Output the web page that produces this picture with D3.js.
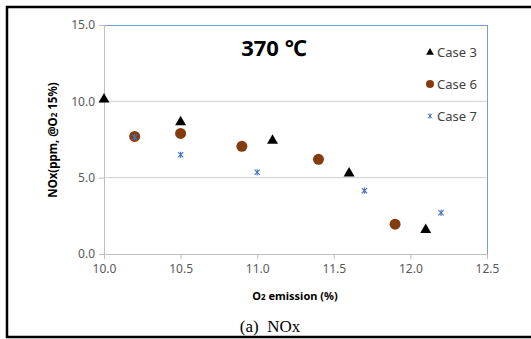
<!DOCTYPE html>
<html>
<head>
<meta charset="utf-8">
<script src="https://cdn.jsdelivr.net/npm/d3@7"></script>
<style>
  body { margin: 0; background: #fff; }
  svg { display: block; }
</style>
</head>
<body>
<div id="chart"></div>
<script>
// data
const xTicks = [10.0, 10.5, 11.0, 11.5, 12.0, 12.5];
const yTicks = [0, 5, 10, 15];

const case3O2 = [10.0, 10.5, 11.1, 11.6, 12.1];
const case3NOx = [10.2, 8.7, 7.5, 5.35, 1.65];

const case6O2 = [10.2, 10.5, 10.9, 11.4, 11.9];
const case6NOx = [7.7, 7.9, 7.05, 6.2, 1.95];

const case7O2 = [10.2, 10.5, 11.0, 11.7, 12.2];
const case7NOx = [7.65, 6.5, 5.35, 4.15, 2.7];

const seriesNames = ["Case 3", "Case 6", "Case 7"];

const W = 531, H = 339;
const margin = {top: 25, right: 44, bottom: 85, left: 104};
const width = 487 - margin.left, height = 254 - margin.top;

const svg = d3.select("#chart").append("svg")
  .attr("width", W).attr("height", H);

// outer frame
svg.append("rect")
  .attr("x", 7).attr("y", 7).attr("width", 540).attr("height", 330)
  .attr("fill", "none").attr("stroke", "#000").attr("stroke-width", 2.5);

const g = svg.append("g").attr("transform", `translate(${margin.left},${margin.top})`);

const x = d3.scaleLinear().domain([10, 12.5]).range([0, width]);
const y = d3.scaleLinear().domain([0, 15]).range([height, 0]);

// gridlines
g.append("g").selectAll("line").data([5, 10]).join("line")
  .attr("x1", 0).attr("x2", width)
  .attr("y1", d => y(d)).attr("y2", d => y(d))
  .attr("stroke", "#d0d0d0").attr("stroke-width", 1);

// plot border top/right
g.append("line").attr("x1", 0).attr("x2", width).attr("y1", 0.5).attr("y2", 0.5)
  .attr("stroke", "#6fa0d8").attr("stroke-width", 1);
g.append("line").attr("x1", width + 0.5).attr("x2", width + 0.5).attr("y1", 0).attr("y2", height)
  .attr("stroke", "#6fa0d8").attr("stroke-width", 1);

// axes
const xAxis = g.append("g").attr("transform", `translate(0,${height})`)
  .call(d3.axisBottom(x).tickValues(xTicks).tickFormat(d3.format(".1f")).tickSize(5).tickPadding(5));
const yAxis = g.append("g")
  .call(d3.axisLeft(y).tickValues(yTicks).tickFormat(d3.format(".1f")).tickSize(5).tickPadding(4));

[xAxis, yAxis].forEach(a => {
  a.select(".domain").attr("stroke", "#bfbfbf");
  a.selectAll(".tick line").attr("stroke", "#bfbfbf");
  a.selectAll(".tick text").attr("fill", "#595959")
    .style("font-family", "'Noto Sans', sans-serif").style("font-size", "12px");
});

// markers
const tri = d3.symbol().type(d3.symbolTriangle).size(52);
const triLegend = d3.symbol().type(d3.symbolTriangle).size(26);

function star(sel, s) {
  sel.append("line").attr("x1", -s).attr("y1", -s).attr("x2", s).attr("y2", s);
  sel.append("line").attr("x1", -s).attr("y1", s).attr("x2", s).attr("y2", -s);
  sel.append("line").attr("x1", 0).attr("y1", -s * 1.2).attr("x2", 0).attr("y2", s * 1.2);
}

g.append("g").selectAll("circle").data(case6O2).join("circle")
  .attr("cx", d => x(d)).attr("cy", (d, i) => y(case6NOx[i]))
  .attr("r", 5.5).attr("fill", "#843c0c");

g.append("g").selectAll("path").data(case3O2).join("path")
  .attr("d", tri)
  .attr("transform", (d, i) => `translate(${x(d)},${y(case3NOx[i]) + 1})`)
  .attr("fill", "#000");

g.append("g").selectAll("g").data(case7O2).join("g")
  .attr("transform", (d, i) => `translate(${x(d)},${y(case7NOx[i])})`)
  .attr("stroke", "#4472c4").attr("stroke-width", 1.1)
  .each(function() { star(d3.select(this), 2.6); });

// title
svg.append("text").attr("x", 274).attr("y", 56).attr("text-anchor", "middle")
  .style("font-family", "'Noto Sans', sans-serif").style("font-size", "22px")
  .style("font-weight", "bold").attr("fill", "#000").text("370 ℃");

// legend
const legY = [52, 84, 116];
const leg = svg.append("g");
legY.forEach((ly, i) => {
  const item = leg.append("g").attr("transform", `translate(430,${ly})`);
  if (i === 0) item.append("path").attr("d", triLegend).attr("fill", "#000").attr("transform", "translate(0,0.5)");
  if (i === 1) item.append("circle").attr("r", 4).attr("fill", "#843c0c");
  if (i === 2) {
    const s = item.append("g").attr("stroke", "#4472c4").attr("stroke-width", 1);
    star(s, 2.2);
  }
  item.append("text").attr("x", 7).attr("y", 4.5)
    .style("font-family", "'Noto Sans', sans-serif").style("font-size", "13px")
    .attr("fill", "#404040").text(seriesNames[i]);
});

// y axis title
const yt = svg.append("text")
  .attr("transform", "translate(57,140) rotate(-90)")
  .attr("text-anchor", "middle")
  .style("font-family", "'Noto Sans', sans-serif").style("font-size", "11.5px")
  .style("font-weight", "bold").attr("fill", "#000");
yt.append("tspan").text("NOx(ppm, @O");
yt.append("tspan").style("font-size", "8px").text("2");
yt.append("tspan").text(" 15%)");

// x axis title
const xt = svg.append("text").attr("x", 295).attr("y", 300).attr("text-anchor", "middle")
  .style("font-family", "'Noto Sans', sans-serif").style("font-size", "11px")
  .style("font-weight", "bold").attr("fill", "#000");
xt.append("tspan").text("O");
xt.append("tspan").style("font-size", "8px").text("2");
xt.append("tspan").text(" emission (%)");

// caption
svg.append("text").attr("x", 270).attr("y", 332).attr("text-anchor", "middle")
  .attr("xml:space", "preserve").style("white-space", "pre")
  .style("font-family", "'Liberation Serif', serif").style("font-size", "17px")
  .attr("fill", "#000").text("(a)  NOx");
</script>
</body>
</html>
